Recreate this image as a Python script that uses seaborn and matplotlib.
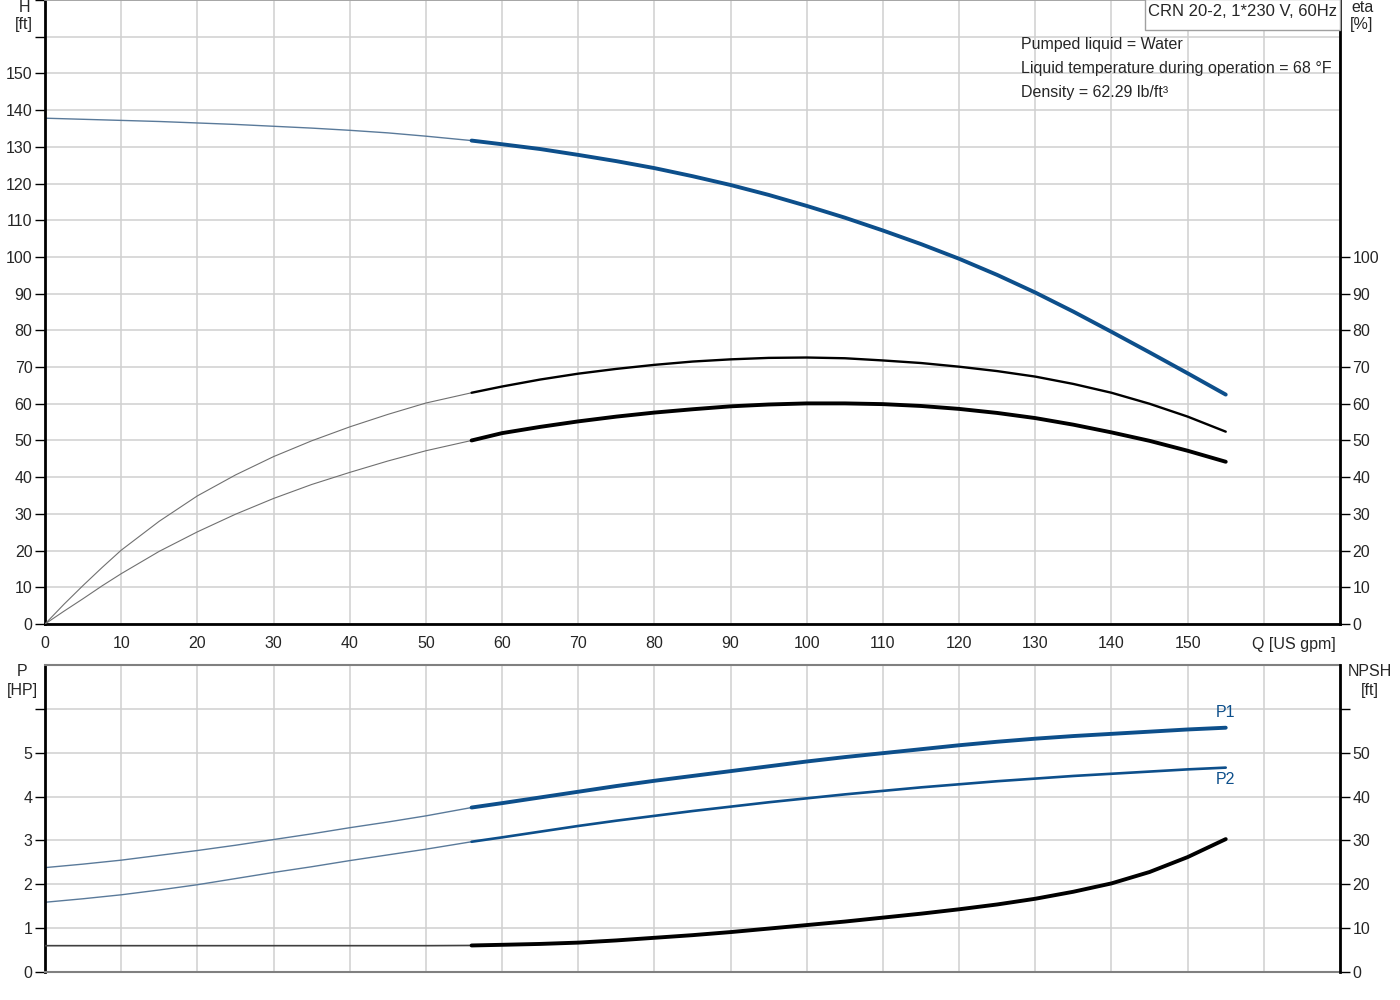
import numpy as np
import pandas as pd
import seaborn as sns
import matplotlib.pyplot as plt
from matplotlib.patches import Rectangle

# flow points (US gpm), duty range starts at 56
q_start = 56
q = [0, 5, 10, 15, 20, 25, 30, 35, 40, 45, 50, 56, 60, 65, 70, 75, 80, 85, 90,
     95, 100, 105, 110, 115, 120, 125, 130, 135, 140, 145, 150, 155]

head_ft = [137.8, 137.5, 137.2, 136.9, 136.5, 136.1, 135.6, 135.1, 134.5, 133.8,
           132.9, 131.7, 130.7, 129.4, 127.8, 126.1, 124.2, 122.0, 119.6, 116.9,
           113.9, 110.7, 107.2, 103.5, 99.5, 95.1, 90.3, 85.1, 79.6, 74.0, 68.3, 62.5]

# efficiency curves bend hard near zero, so a few extra points there
q_eta = [0, 2.5, 5, 7.5, 10, 15, 20, 25, 30, 35, 40, 45, 50, 56, 60, 65, 70, 75,
         80, 85, 90, 95, 100, 105, 110, 115, 120, 125, 130, 135, 140, 145, 150, 155]
eta_pump = [0, 5.4, 10.5, 15.4, 20.1, 28.0, 34.9, 40.6, 45.6, 49.9, 53.7, 57.1,
            60.2, 63.0, 64.7, 66.6, 68.2, 69.5, 70.6, 71.5, 72.1, 72.5, 72.6, 72.4,
            71.8, 71.1, 70.1, 68.9, 67.4, 65.4, 63.0, 60.0, 56.5, 52.4]
eta_total = [0, 3.5, 6.9, 10.4, 13.7, 19.8, 25.1, 29.9, 34.2, 38.0, 41.3, 44.4,
             47.2, 50.0, 52.0, 53.7, 55.2, 56.5, 57.6, 58.5, 59.3, 59.8, 60.1, 60.1,
             59.9, 59.4, 58.6, 57.5, 56.1, 54.3, 52.2, 49.9, 47.2, 44.2]

p1_hp = [2.38, 2.46, 2.55, 2.66, 2.77, 2.89, 3.02, 3.15, 3.29, 3.42, 3.56, 3.75,
         3.85, 3.98, 4.11, 4.24, 4.36, 4.47, 4.58, 4.69, 4.80, 4.90, 4.99, 5.08,
         5.17, 5.25, 5.32, 5.38, 5.43, 5.48, 5.53, 5.57]
p2_hp = [1.59, 1.67, 1.76, 1.87, 1.99, 2.13, 2.27, 2.40, 2.54, 2.67, 2.80, 2.97,
         3.07, 3.20, 3.33, 3.45, 3.56, 3.67, 3.77, 3.87, 3.96, 4.05, 4.13, 4.21,
         4.28, 4.35, 4.41, 4.47, 4.52, 4.57, 4.62, 4.66]
npsh_ft = [6.0, 6.0, 6.0, 6.0, 6.0, 6.0, 6.0, 6.0, 6.0, 6.0, 6.0, 6.05,
           6.2, 6.4, 6.7, 7.2, 7.8, 8.4, 9.1, 9.9, 10.7, 11.5, 12.4, 13.3,
           14.3, 15.4, 16.7, 18.3, 20.2, 22.8, 26.2, 30.3]

x_ticks = list(range(0, 171, 10))
x_labels = [str(t) for t in range(0, 151, 10)] + ['', '']
h_ticks = list(range(0, 171, 10))
h_labels = [str(t) for t in range(0, 151, 10)] + ['', '']
eta_ticks = list(range(0, 101, 10))
p_ticks = [0, 1, 2, 3, 4, 5, 6]
p_labels = ['0', '1', '2', '3', '4', '5', '']
npsh_ticks = [0, 10, 20, 30, 40, 50, 60]
npsh_labels = ['0', '10', '20', '30', '40', '50', '']

info_lines = ['Pumped liquid = Water',
              'Liquid temperature during operation = 68 \u00b0F',
              'Density = 62.29 lb/ft\u00b3']
title_box = 'CRN 20-2, 1*230 V, 60Hz'

BLUE = '#0d4f8b'
THIN_BLUE = '#5a7a9a'

sns.set_theme(style='white')
plt.rcParams['font.family'] = ['Liberation Sans', 'DejaVu Sans']
plt.rcParams['font.size'] = 11.5


def draw_curve(ax, xs, ys, color, lw_thin, lw_thick, thin_color=None):
    df = pd.DataFrame({'q': xs, 'v': ys})
    sns.lineplot(data=df[df.q <= q_start], x='q', y='v', ax=ax,
                 color=thin_color or color, linewidth=lw_thin, estimator=None)
    sns.lineplot(data=df[df.q >= q_start], x='q', y='v', ax=ax,
                 color=color, linewidth=lw_thick, estimator=None,
                 solid_capstyle='round', solid_joinstyle='round')


def style_axis(ax, ylim, yticks, ylabels):
    ax.set_xlim(0, 170)
    ax.set_ylim(*ylim)
    ax.set_xticks(x_ticks)
    ax.set_yticks(yticks)
    ax.set_yticklabels(ylabels)
    ax.set_xlabel('')
    ax.set_ylabel('')
    ax.tick_params(direction='out', length=7, width=1, color='black',
                   labelsize=11.5, pad=2)


fig = plt.figure(figsize=(14, 10), dpi=100)
ax_top = fig.add_axes([45 / 1400, 0.376, 1295 / 1400, 0.624])
ax_bot = fig.add_axes([45 / 1400, 0.028, 1295 / 1400, 0.307])

for ax in (ax_top, ax_bot):
    ax.grid(True, color='#d0d0d0', linewidth=1.1)
    ax.set_axisbelow(True)

# ---- top panel: head and efficiency
draw_curve(ax_top, q, head_ft, BLUE, 1.0, 2.8, thin_color=THIN_BLUE)
style_axis(ax_top, (0, 170), h_ticks, h_labels)
ax_top.set_xticklabels(x_labels)
# grid lines at 160/170 but no tick marks there
for t in ax_top.yaxis.get_major_ticks()[16:]:
    t.tick1line.set_visible(False)

ax_eta = ax_top.twinx()
draw_curve(ax_eta, q_eta, eta_pump, 'black', 0.8, 1.7, thin_color='#707070')
draw_curve(ax_eta, q_eta, eta_total, 'black', 0.8, 2.8, thin_color='#707070')
style_axis(ax_eta, (0, 170), eta_ticks, [str(t) for t in eta_ticks])
ax_eta.grid(False)

ax_top.spines['left'].set_linewidth(2)
ax_top.spines['bottom'].set_linewidth(2)
ax_top.spines['top'].set_color('#a0a0a0')
for s in ('left', 'bottom'):
    ax_top.spines[s].set_color('black')
ax_top.spines['right'].set_visible(False)
for s in ('left', 'bottom', 'top'):
    ax_eta.spines[s].set_visible(False)
ax_eta.spines['right'].set_linewidth(2)
ax_eta.spines['right'].set_color('black')

ax_top.annotate('Q [US gpm]', xy=(164, 0), xycoords=('data', 'axes fraction'),
                xytext=(0, -9), textcoords='offset points', ha='center', va='top',
                fontsize=11.5)
fig.text(24 / 1400, 1 - 8 / 1000, 'H', ha='center', va='center', fontsize=11.5)
fig.text(24 / 1400, 1 - 25 / 1000, '[ft]', ha='center', va='center', fontsize=11.5)
fig.text(1362 / 1400, 1 - 8 / 1000, 'eta', ha='center', va='center', fontsize=11.5)
fig.text(1362 / 1400, 1 - 25 / 1000, '[%]', ha='center', va='center', fontsize=11.5)

# model box in the top right corner
fig.patches.append(Rectangle((1145 / 1400, 1 - 30 / 1000), 195 / 1400, 31 / 1000,
                             transform=fig.transFigure, facecolor='white',
                             edgecolor='#a0a0a0', linewidth=1, zorder=5))
fig.text(1243 / 1400, 1 - 12 / 1000, title_box, ha='center', va='center',
         fontsize=12, zorder=6)
for i, line in enumerate(info_lines):
    fig.text(1021 / 1400, 1 - (44 + 24 * i) / 1000, line, ha='left',
             va='center', fontsize=11.5)

# ---- bottom panel: power and NPSH
draw_curve(ax_bot, q, p1_hp, BLUE, 1.0, 2.8, thin_color=THIN_BLUE)
draw_curve(ax_bot, q, p2_hp, BLUE, 1.0, 1.9, thin_color=THIN_BLUE)
style_axis(ax_bot, (0, 7), p_ticks, p_labels)
ax_bot.set_xticklabels([])
ax_bot.tick_params(axis='x', length=0)

ax_npsh = ax_bot.twinx()
draw_curve(ax_npsh, q, npsh_ft, 'black', 1.2, 2.8, thin_color='#404040')
style_axis(ax_npsh, (0, 70), npsh_ticks, npsh_labels)
ax_npsh.set_xticklabels([])
ax_npsh.tick_params(axis='x', length=0)
ax_npsh.grid(False)

ax_bot.spines['left'].set_linewidth(2)
ax_bot.spines['left'].set_color('black')
for s in ('bottom', 'top'):
    ax_bot.spines[s].set_color('#808080')
    ax_bot.spines[s].set_linewidth(1.5)
ax_bot.spines['right'].set_visible(False)
for s in ('left', 'bottom', 'top'):
    ax_npsh.spines[s].set_visible(False)
ax_npsh.spines['right'].set_linewidth(2)
ax_npsh.spines['right'].set_color('black')

ax_bot.text(q[-1], p1_hp[-1] + 0.18, 'P1', color=BLUE, ha='center',
            va='bottom', fontsize=11.5)
ax_bot.text(q[-1], p2_hp[-1] - 0.1, 'P2', color=BLUE, ha='center',
            va='top', fontsize=11.5)

fig.text(22 / 1400, 1 - 672 / 1000, 'P', ha='center', va='center', fontsize=11.5)
fig.text(22 / 1400, 1 - 690 / 1000, '[HP]', ha='center', va='center', fontsize=11.5)
fig.text(1370 / 1400, 1 - 672 / 1000, 'NPSH', ha='center', va='center', fontsize=11.5)
fig.text(1370 / 1400, 1 - 690 / 1000, '[ft]', ha='center', va='center', fontsize=11.5)

fig.savefig('out.png', dpi=100, facecolor='white')
